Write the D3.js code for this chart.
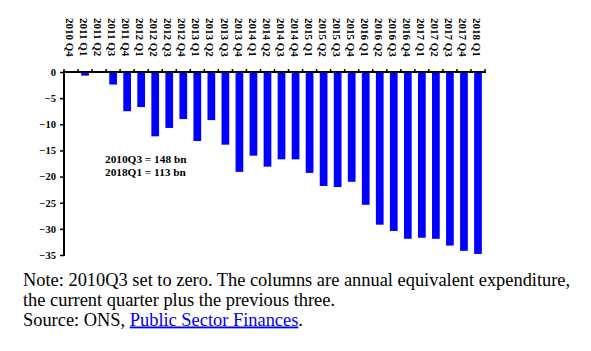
<!DOCTYPE html>
<html>
<head>
<meta charset="utf-8">
<script src="https://cdn.jsdelivr.net/npm/d3@7"></script>
<style>
  body { margin: 0; background: #fff; }
  svg { display: block; }
  .tick text { font-family: "Liberation Serif", "Times New Roman", serif; font-weight: bold; }
</style>
</head>
<body>
<svg id="chart" width="591" height="351"></svg>
<script>
// Quarters shown along the top
var quarters = ["2010 Q4", "2011 Q1", "2011 Q2", "2011 Q3", "2011 Q4", "2012 Q1", "2012 Q2",
    "2012 Q3", "2012 Q4", "2013 Q1", "2013 Q2", "2013 Q3", "2013 Q4", "2014 Q1", "2014 Q2",
    "2014 Q3", "2014 Q4", "2015 Q1", "2015 Q2", "2015 Q3", "2015 Q4", "2016 Q1", "2016 Q2",
    "2016 Q3", "2016 Q4", "2017 Q1", "2017 Q2", "2017 Q3", "2017 Q4", "2018 Q1"];

// Change since 2010Q3, bn
var change = [0, -0.7, 0, -2.4, -7.5, -6.7, -12.3, -10.7, -9.0, -13.2, -9.2, -13.9, -19.1, -16.0, -18.1,
    -16.7, -16.7, -19.3, -21.8, -22.0, -21.0, -25.4, -29.2, -30.4, -31.9, -31.7, -31.9, -33.2, -34.2, -34.8];

var yTicks = [0, -5, -10, -15, -20, -25, -30, -35];

var annotation = ["2010Q3 = 148 bn", "2018Q1 = 113 bn"];
var noteLines = ["Note: 2010Q3 set to zero. The columns are annual equivalent expenditure,",
    "the current quarter plus the previous three."];

var svg = d3.select("#chart");

var x = d3.scaleBand()
    .domain(quarters)
    .range([64, 485])
    .paddingInner(0.45)
    .paddingOuter(0.225);

var y = d3.scaleLinear()
    .domain([-35, 0])
    .range([255, 72]);

// Bars
svg.append("g")
    .selectAll("rect")
    .data(quarters)
    .join("rect")
    .attr("x", function(d) { return x(d); })
    .attr("width", x.bandwidth())
    .attr("y", y(0))
    .attr("height", function(d, i) { return y(change[i]) - y(0); })
    .attr("fill", "#0000ff");

// Y axis
var yAxis = svg.append("g")
    .attr("transform", "translate(64,0)")
    .call(d3.axisLeft(y).tickValues(yTicks).tickSize(4).tickPadding(4).tickFormat(d3.format("d")));

yAxis.select(".domain").attr("stroke-width", 2).attr("d", "M0," + (y(-35) + 1) + "V" + y(0));
yAxis.selectAll(".tick line").attr("stroke-width", 1.5);
yAxis.selectAll(".tick text").attr("font-size", 10.5).attr("fill", "#000");

// X axis along zero, with ticks at the category boundaries pointing up
var step = x.step();
var bounds = d3.range(quarters.length + 1).map(function(i) { return 64 + i * step; });

var xAxis = svg.append("g");
xAxis.append("line")
    .attr("x1", 63).attr("x2", 486)
    .attr("y1", y(0)).attr("y2", y(0))
    .attr("stroke", "#000").attr("stroke-width", 2);
xAxis.selectAll(".xtick")
    .data(bounds)
    .join("line")
    .attr("class", "xtick")
    .attr("x1", function(d) { return d; }).attr("x2", function(d) { return d; })
    .attr("y1", y(0) - 3).attr("y2", y(0))
    .attr("stroke", "#000").attr("stroke-width", 1.5);

// Category labels rotated, reading downwards
svg.append("g")
    .selectAll("text")
    .data(quarters)
    .join("text")
    .attr("transform", function(d) { return "translate(" + (x(d) + x.bandwidth() / 2 - 1) + ",18) rotate(90)"; })
    .attr("dy", "0.35em")
    .attr("font-family", "Liberation Serif, Times New Roman, serif")
    .attr("font-weight", "bold")
    .attr("font-size", 11)
    .text(function(d) { return d; });

// Base values annotation
svg.append("g")
    .selectAll("text")
    .data(annotation)
    .join("text")
    .attr("x", 105)
    .attr("y", function(d, i) { return 162.5 + i * 13.5; })
    .attr("font-family", "Liberation Serif, Times New Roman, serif")
    .attr("font-weight", "bold")
    .attr("font-size", 11.3)
    .text(function(d) { return d; });

// Note and source
var notes = svg.append("g")
    .attr("font-family", "Liberation Serif, Times New Roman, serif")
    .attr("font-size", 18.4)
    .attr("fill", "#000");

notes.selectAll("text.note")
    .data(noteLines)
    .join("text")
    .attr("class", "note")
    .attr("x", 23)
    .attr("y", function(d, i) { return 285.5 + i * 20; })
    .text(function(d) { return d; });

var source = notes.append("text")
    .attr("x", 23)
    .attr("y", 325.5);
source.append("tspan").text("Source: ONS, ");
source.append("tspan")
    .attr("fill", "#0000ee")
    .attr("text-decoration", "underline")
    .text("Public Sector Finances");
source.append("tspan").text(".");
</script>
</body>
</html>
